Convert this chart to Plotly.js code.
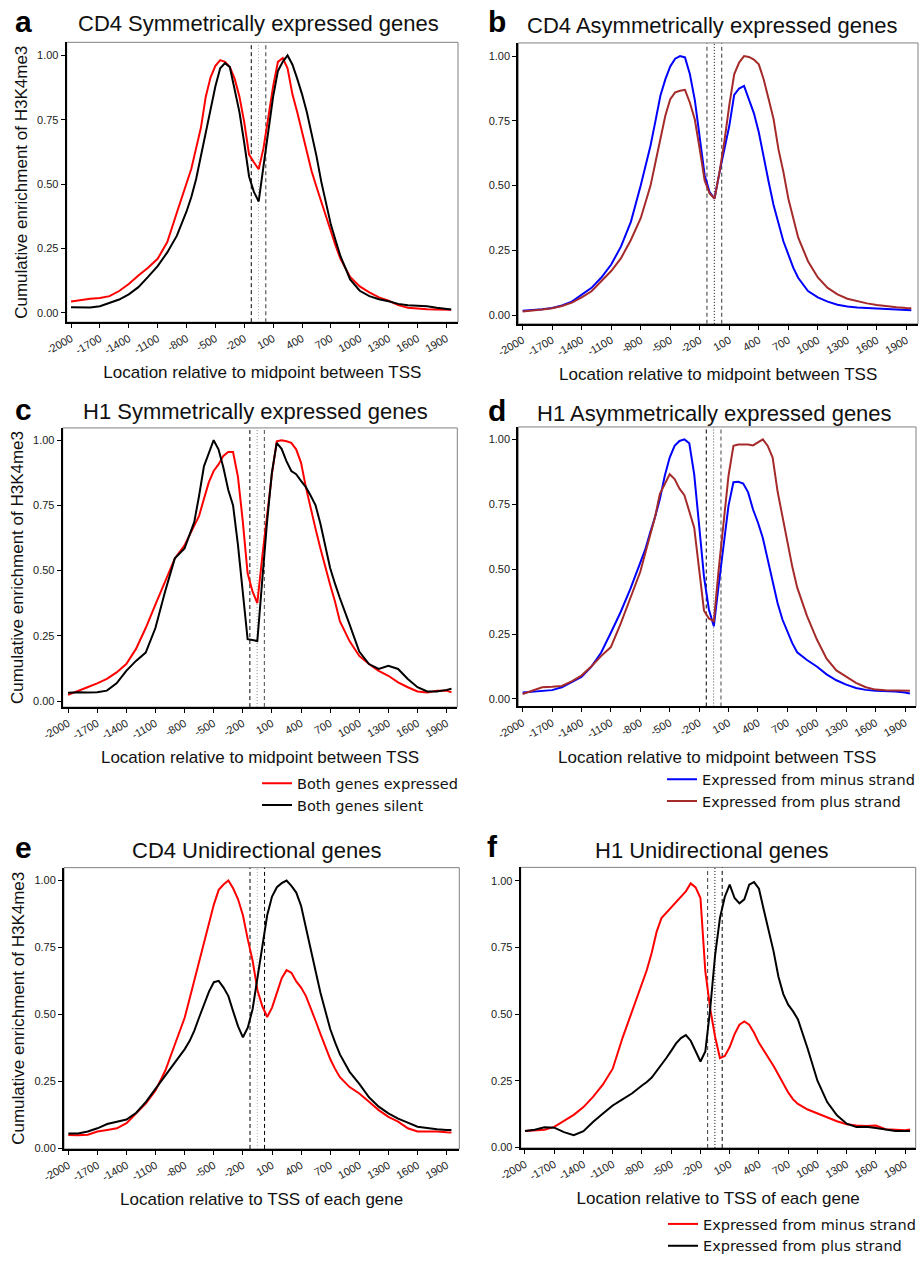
<!DOCTYPE html>
<html>
<head>
<meta charset="utf-8">
<script src="https://cdn.plot.ly/plotly-3.0.1.min.js"></script>
<style>html,body{margin:0;padding:0;background:#fff;}#chart{width:921px;height:1262px;}</style>
</head>
<body>
<div id="chart"></div>
<script>
// ---------- DATA ----------
const X = [-2000,-1900,-1800,-1700,-1600,-1500,-1400,-1300,-1200,-1100,-1000,-900,-800,
  -750,-700,-650,-600,-550,-500,-450,-400,-350,-300,-250,-200,-150,-100,-50,0,50,100,150,200,250,300,350,400,450,500,550,600,650,700,750,800,
  900,1000,1100,1200,1300,1400,1500,1600,1700,1800,1900,1950];

const xTickVals = [-2000,-1700,-1400,-1100,-800,-500,-200,100,400,700,1000,1300,1600,1900];
const xTickText = ['-2000','-1700','-1400','-1100','-800','-500','-200','100','400','700','1000','1300','1600','1900'];
const yTickVals = [0,0.25,0.5,0.75,1];
const yTickText = ['0.00','0.25','0.50','0.75','1.00'];
const refLines = [-127,-52,23];

// a: CD4 symmetrically expressed genes
const cd4SymExpressed = [0.044,0.050,0.055,0.058,0.065,0.085,0.112,0.145,0.175,0.21,0.275,0.39,0.50,
  0.56,0.64,0.72,0.84,0.915,0.96,0.982,0.975,0.955,0.91,0.84,0.74,0.615,0.585,0.558,0.64,0.76,0.88,0.975,0.99,0.95,0.85,0.78,0.70,0.62,0.55,0.49,0.43,0.37,0.317,0.26,0.21,
  0.14,0.103,0.08,0.06,0.047,0.03,0.02,0.016,0.014,0.013,0.012,0.012];
const cd4SymSilent = [0.022,0.021,0.021,0.026,0.038,0.052,0.072,0.10,0.14,0.182,0.235,0.30,0.394,
  0.45,0.52,0.61,0.70,0.79,0.88,0.95,0.97,0.955,0.87,0.78,0.66,0.53,0.47,0.433,0.57,0.70,0.84,0.94,0.975,1.0,0.965,0.91,0.85,0.78,0.70,0.61,0.51,0.42,0.343,0.28,0.22,
  0.13,0.086,0.065,0.053,0.045,0.035,0.03,0.028,0.026,0.02,0.014,0.013];

// b: CD4 asymmetrically expressed genes
const cd4AsymMinus = [0.017,0.019,0.022,0.027,0.037,0.052,0.08,0.105,0.145,0.195,0.265,0.36,0.50,
  0.575,0.655,0.75,0.847,0.91,0.96,0.99,1.0,0.995,0.93,0.83,0.69,0.54,0.475,0.45,0.55,0.64,0.73,0.85,0.875,0.885,0.834,0.78,0.706,0.604,0.515,0.425,0.35,0.285,0.234,0.183,0.144,
  0.093,0.068,0.052,0.04,0.033,0.029,0.026,0.025,0.023,0.021,0.02,0.019];
const cd4AsymPlus = [0.014,0.017,0.021,0.026,0.035,0.048,0.068,0.092,0.13,0.17,0.22,0.29,0.374,
  0.44,0.50,0.59,0.68,0.77,0.834,0.86,0.866,0.87,0.82,0.755,0.64,0.52,0.47,0.45,0.55,0.67,0.81,0.93,0.975,1.0,0.997,0.987,0.968,0.91,0.834,0.757,0.64,0.553,0.45,0.374,0.30,
  0.208,0.145,0.105,0.08,0.063,0.053,0.045,0.039,0.034,0.03,0.027,0.026];

// c: H1 symmetrically expressed genes
const h1SymExpressed = [0.024,0.037,0.053,0.068,0.085,0.11,0.142,0.20,0.28,0.37,0.458,0.547,0.597,
  0.635,0.673,0.71,0.775,0.838,0.882,0.907,0.94,0.955,0.955,0.86,0.69,0.49,0.42,0.376,0.55,0.72,0.87,0.996,1.0,0.996,0.99,0.965,0.914,0.82,0.737,0.66,0.585,0.51,0.446,0.382,0.306,
  0.23,0.173,0.142,0.116,0.097,0.072,0.053,0.037,0.033,0.04,0.04,0.034];
const h1SymSilent = [0.032,0.034,0.033,0.034,0.04,0.068,0.116,0.154,0.186,0.28,0.42,0.547,0.585,
  0.635,0.686,0.787,0.90,0.95,1.0,0.965,0.895,0.81,0.75,0.60,0.41,0.237,0.234,0.23,0.46,0.686,0.876,0.99,0.967,0.92,0.882,0.87,0.844,0.82,0.787,0.75,0.68,0.60,0.51,0.45,0.395,
  0.294,0.19,0.142,0.123,0.135,0.123,0.085,0.053,0.037,0.037,0.043,0.047];

// d: H1 asymmetrically expressed genes
const h1AsymMinus = [0.025,0.028,0.032,0.034,0.045,0.064,0.085,0.124,0.178,0.255,0.335,0.425,0.522,
  0.575,0.64,0.70,0.77,0.86,0.93,0.975,0.994,1.0,0.985,0.865,0.67,0.47,0.345,0.28,0.44,0.59,0.745,0.835,0.837,0.83,0.796,0.73,0.68,0.62,0.54,0.452,0.37,0.306,0.26,0.215,0.18,
  0.15,0.125,0.095,0.072,0.055,0.042,0.035,0.032,0.031,0.029,0.025,0.021];
const h1AsymPlus = [0.019,0.032,0.045,0.047,0.05,0.068,0.09,0.125,0.165,0.20,0.29,0.39,0.49,
  0.56,0.63,0.70,0.79,0.83,0.866,0.847,0.81,0.785,0.72,0.66,0.50,0.34,0.31,0.30,0.50,0.68,0.86,0.975,0.98,0.98,0.98,0.977,0.987,1.0,0.975,0.93,0.80,0.70,0.60,0.51,0.43,
  0.32,0.23,0.155,0.11,0.085,0.062,0.045,0.036,0.034,0.033,0.032,0.032];

// e: CD4 unidirectional genes
const cd4UniMinus = [0.049,0.048,0.05,0.062,0.068,0.074,0.093,0.13,0.167,0.216,0.29,0.389,0.488,
  0.558,0.63,0.70,0.77,0.84,0.91,0.965,0.985,1.0,0.97,0.93,0.87,0.78,0.70,0.59,0.53,0.49,0.525,0.58,0.635,0.665,0.655,0.623,0.60,0.568,0.525,0.475,0.426,0.377,0.333,0.296,0.265,
  0.228,0.204,0.173,0.142,0.117,0.099,0.074,0.062,0.062,0.062,0.059,0.058];
const cd4UniPlus = [0.055,0.055,0.062,0.074,0.09,0.099,0.107,0.132,0.173,0.222,0.27,0.32,0.37,
  0.40,0.44,0.49,0.535,0.585,0.62,0.625,0.60,0.568,0.51,0.455,0.414,0.45,0.52,0.64,0.76,0.87,0.94,0.975,0.99,1.0,0.98,0.955,0.905,0.82,0.74,0.66,0.58,0.51,0.445,0.395,0.35,
  0.285,0.24,0.19,0.155,0.13,0.11,0.095,0.08,0.075,0.07,0.068,0.068];

// f: H1 unidirectional genes
const h1UniMinus = [0.061,0.063,0.066,0.077,0.10,0.122,0.151,0.19,0.236,0.295,0.41,0.51,0.61,
  0.665,0.73,0.808,0.86,0.88,0.90,0.92,0.94,0.96,0.99,0.975,0.935,0.66,0.52,0.415,0.335,0.343,0.376,0.425,0.46,0.472,0.46,0.43,0.392,0.364,0.335,0.305,0.272,0.24,0.206,0.18,0.163,
  0.142,0.128,0.112,0.098,0.087,0.082,0.08,0.082,0.068,0.066,0.064,0.067];
const h1UniPlus = [0.061,0.066,0.075,0.074,0.057,0.046,0.061,0.096,0.127,0.157,0.18,0.203,0.232,
  0.245,0.262,0.285,0.308,0.335,0.362,0.39,0.41,0.421,0.40,0.36,0.322,0.36,0.52,0.72,0.86,0.94,0.985,0.935,0.915,0.93,0.985,0.995,0.97,0.89,0.81,0.735,0.64,0.575,0.535,0.51,0.48,
  0.37,0.25,0.17,0.12,0.089,0.076,0.077,0.073,0.066,0.061,0.061,0.061];

const panelLetters = ['a','b','c','d','e','f'];
const panelTitles = ['CD4 Symmetrically expressed genes','CD4 Asymmetrically expressed genes',
  'H1 Symmetrically expressed genes','H1 Asymmetrically expressed genes',
  'CD4 Unidirectional genes','H1 Unidirectional genes'];
const xTitleMid = 'Location relative to midpoint between TSS';
const xTitleTss = 'Location relative to TSS of each gene';
const yTitle = 'Cumulative enrichment of H3K4me3';
const symNames = ['Both genes expressed','Both genes silent'];
const strandNames = ['Expressed from minus strand','Expressed from plus strand'];

// ---------- LAYOUT ----------
const W = 921, H = 1262;
const px = v => v / W;
const py = v => 1 - v / H;
const FONT = 'Liberation Sans, Arial, sans-serif';

const panels = [
  {box:[66.7,458,42.7,325], xr:[-2045,2021], yr:[-0.036,1.051], series:[cd4SymExpressed,cd4SymSilent], colors:['#FF0000','#000000'], names:symNames, legend:null, xt:xTitleMid, yt:true,
   title:[258,24], letter:[23.5,21.5], vs:[['#000','4px,3px',1],['#aaa','1px,2px',1],['#777','4px,3px',1.5]]},
  {box:[518.3,918,43.3,326.7], xr:[-2044,2018], yr:[-0.034,1.051], series:[cd4AsymMinus,cd4AsymPlus], colors:['#0000FF','#A52A2A'], names:strandNames, legend:null, xt:xTitleMid, yt:false,
   title:[711.5,25.6], letter:[496.5,21.5], vs:[['#555','4px,3px',1.2],['#000','1px,2px',1],['#555','4px,3px',1.2]]},
  {box:[62.7,457.3,431.7,713.3], xr:[-2055,2010], yr:[-0.023,1.047], series:[h1SymExpressed,h1SymSilent], colors:['#FF0000','#000000'], names:symNames, legend:'legend', xt:xTitleMid, yt:true,
   title:[255.5,415], letter:[23.5,413.5], vs:[['#000','4px,3px',1],['#888','1px,2px',1],['#666','4px,3px',1.2]]},
  {box:[518.3,916,430.7,712.7], xr:[-2044,2012], yr:[-0.029,1.048], series:[h1AsymMinus,h1AsymPlus], colors:['#0000FF','#A52A2A'], names:strandNames, legend:'legend2', xt:xTitleMid, yt:false,
   title:[714,417.3], letter:[496.5,414.5], vs:[['#000','4px,3px',1],['#555','1px,2px',1],['#666','4px,3px',1.2]]},
  {box:[64,459.3,875.3,1159], xr:[-2045,2031], yr:[-0.003,1.048], series:[cd4UniMinus,cd4UniPlus], colors:['#FF0000','#000000'], names:strandNames, legend:null, xt:xTitleTss, yt:true,
   title:[256.5,858], letter:[23.5,854.5], vs:[['#000','4px,3px',1],['#aaa','1px,2px',1],['#000','4px,3px',1]]},
  {box:[520.7,915.7,875,1158], xr:[-2044,2008], yr:[-0.002,1.05], series:[h1UniMinus,h1UniPlus], colors:['#FF0000','#000000'], names:strandNames, legend:'legend3', xt:xTitleTss, yt:false,
   title:[712,858], letter:[492.5,853.5], vs:[['#555','4px,3px',1.2],['#000','1px,2px',1],['#000','4px,3px',1]]}
];

const traces = [];
const layout = {
  width: W, height: H,
  margin: {l:0, r:0, t:0, b:0},
  paper_bgcolor: '#fff', plot_bgcolor: '#fff',
  font: {family: FONT, color: '#111'},
  shapes: [], annotations: []
};

panels.forEach((p, i) => {
  const s = i === 0 ? '' : String(i + 1);
  const [l, r, t, b] = p.box;
  layout['xaxis' + s] = {
    domain: [px(l), px(r)], range: p.xr, anchor: 'y' + s,
    tickmode: 'array', tickvals: xTickVals, ticktext: xTickText, tickangle: -30,
    ticks: 'outside', ticklen: 4, tickwidth: 1, tickcolor: '#000',
    showline: true, linecolor: '#000', linewidth: 2,
    showgrid: false, zeroline: false, automargin: false,
    tickfont: {family: FONT, size: 11, color: '#1a1a1a'},
    title: {text: p.xt, font: {family: FONT, size: 17, color: '#111'}, standoff: 11}
  };
  layout['yaxis' + s] = {
    domain: [py(b), py(t)], range: p.yr, anchor: 'x' + s,
    tickmode: 'array', tickvals: yTickVals, ticktext: yTickText,
    ticks: 'outside', ticklen: 4, tickwidth: 1, tickcolor: '#000',
    showline: true, linecolor: '#000', linewidth: 2,
    showgrid: false, zeroline: false, automargin: false,
    tickfont: {family: FONT, size: 11, color: '#1a1a1a'},
    title: p.yt ? {text: yTitle, font: {family: FONT, size: 17, color: '#111'}, standoff: 5} : {text: ''}
  };
  // panel border
  layout.shapes.push({type:'rect', xref:'x' + s + ' domain', yref:'y' + s + ' domain', x0:0, x1:1, y0:0, y1:1,
    line:{color:'#808080', width:1}, layer:'below'});
  // reference lines
  refLines.forEach((v, k) => {
    const st = p.vs[k];
    layout.shapes.push({type:'line', xref:'x' + s, yref:'y' + s + ' domain', x0:v, x1:v, y0:0, y1:1,
      line:{color:st[0], width:st[2], dash:st[1]}, layer:'below'});
  });
  // title + letter
  layout.annotations.push({text: panelTitles[i], xref:'paper', yref:'paper', x: px(p.title[0]), y: py(p.title[1]),
    xanchor:'center', yanchor:'middle', showarrow:false, font:{family: FONT, size: 22, color:'#111'}});
  layout.annotations.push({text: '<b>' + panelLetters[i] + '</b>', xref:'paper', yref:'paper', x: px(p.letter[0]), y: py(p.letter[1]),
    xanchor:'center', yanchor:'middle', showarrow:false, font:{family: FONT, size: 30, color:'#000'}});
  // traces
  p.series.forEach((vals, k) => {
    const tr = {x: X, y: vals, xaxis: 'x' + s, yaxis: 'y' + s, type: 'scatter', mode: 'lines',
      line: {color: p.colors[k], width: 2}, name: p.names[k], hoverinfo: 'skip',
      showlegend: !!p.legend};
    if (p.legend) tr.legend = p.legend;
    traces.push(tr);
  });
});

const legFont = {family: 'DejaVu Sans, sans-serif', size: 14.5, color: '#111'};
layout.legend  = {x: px(257), y: py(774),  xanchor:'left', yanchor:'top', font: legFont, bgcolor:'rgba(0,0,0,0)', itemclick:false, itemdoubleclick:false};
layout.legend2 = {x: px(662), y: py(770),  xanchor:'left', yanchor:'top', font: legFont, bgcolor:'rgba(0,0,0,0)', itemclick:false, itemdoubleclick:false};
layout.legend3 = {x: px(663), y: py(1219), xanchor:'left', yanchor:'top', font: legFont, bgcolor:'rgba(0,0,0,0)', itemclick:false, itemdoubleclick:false};

Plotly.newPlot('chart', traces, layout, {staticPlot: true, displayModeBar: false});
</script>
</body>
</html>
